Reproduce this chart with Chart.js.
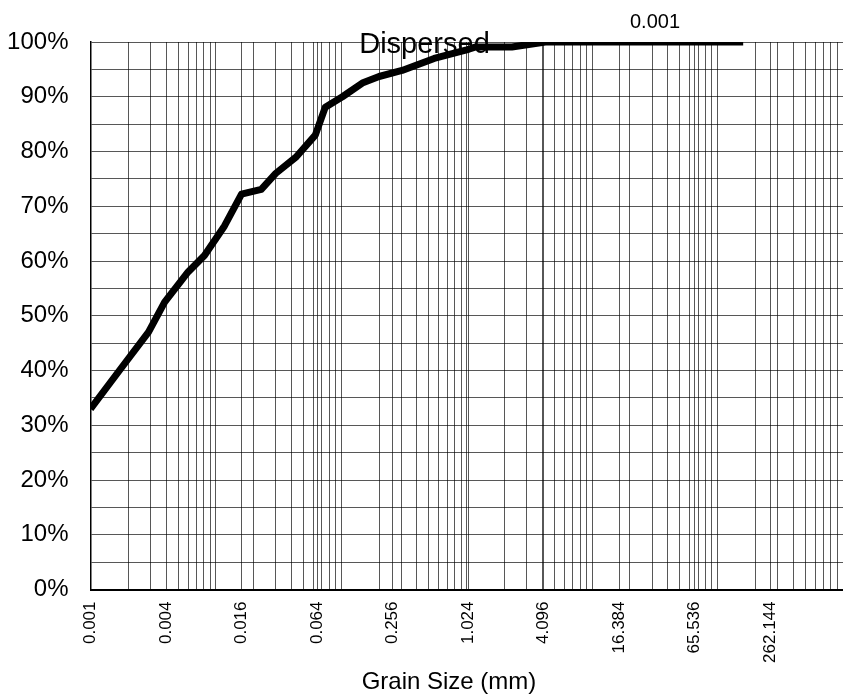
<!DOCTYPE html>
<html>
<head>
<meta charset="utf-8">
<script src="https://cdn.jsdelivr.net/npm/chart.js@4/dist/chart.umd.min.js"></script>
<style>
  html, body { margin: 0; padding: 0; background: #fff; }
  #wrap { width: 843px; height: 695px; position: relative; }
</style>
</head>
<body>
<div id="wrap"><canvas id="c" width="843" height="695"></canvas></div>
<script>
// ---- data ----
const grainSize = [0.001, 0.0017, 0.0029, 0.0039, 0.006, 0.0081, 0.0117, 0.016, 0.023, 0.030, 0.0436, 0.062, 0.0745, 0.102, 0.147, 0.2, 0.305, 0.55, 0.98, 1.18, 2.29, 4.24, 160];
const percentFiner = [33, 40, 47, 52.5, 58, 61, 66.4, 72.2, 73.1, 76, 79, 83, 88.1, 90, 92.5, 93.7, 94.8, 97, 98.5, 99.1, 99.1, 100, 100];

const xTickLabels = ['0.001', '0.004', '0.016', '0.064', '0.256', '1.024', '4.096', '16.384', '65.536', '262.144'];
const decadeStarts = [0.001, 0.01, 0.1, 1, 10, 100];
const decadeMultipliers = [1, 2, 3, 4, 5, 6, 7, 8, 9];
const yMin = 0, yMax = 100, yStep = 5, yLabelStep = 10;
const chartTitle = 'Dispersed';
const xAxisTitle = 'Grain Size (mm)';
const topNote = '0.001';

// ---- grid values for the log axis ----
const labelValues = xTickLabels.map(Number);
let gridValues = [];
decadeStarts.forEach(d => decadeMultipliers.forEach(m => gridValues.push(+(d * m).toPrecision(6))));
gridValues.push(1000);
gridValues = gridValues.concat(labelValues);
gridValues = Array.from(new Set(gridValues)).sort((a, b) => a - b);

const FONT = "'Liberation Sans', Arial, sans-serif";

const textPlugin = {
  id: 'textPlugin',
  afterDraw(chart) {
    const ctx = chart.ctx;
    ctx.save();
    ctx.fillStyle = '#000';
    ctx.textAlign = 'center';
    ctx.textBaseline = 'alphabetic';
    ctx.font = '29px ' + FONT;
    ctx.fillText(chartTitle, chart.width / 2 + 3, 53);
    ctx.font = '20px ' + FONT;
    ctx.fillText(topNote, 655, 28);
    ctx.font = '24px ' + FONT;
    ctx.fillText(xAxisTitle, 449, 689);
    ctx.restore();
  }
};

new Chart(document.getElementById('c'), {
  type: 'line',
  data: {
    datasets: [{
      data: grainSize.map((x, i) => ({ x: x, y: percentFiner[i] })),
      borderColor: '#000',
      borderWidth: 7,
      pointRadius: 0,
      tension: 0,
      fill: false,
      borderJoinStyle: 'round'
    }]
  },
  options: {
    responsive: false,
    animation: false,
    devicePixelRatio: 1,
    layout: { padding: { left: 0, right: -2, top: 42, bottom: 0 } },
    plugins: { legend: { display: false }, tooltip: { enabled: false }, title: { display: false } },
    scales: {
      x: {
        type: 'logarithmic',
        min: 0.001,
        max: 1000,
        afterBuildTicks: (scale) => { scale.ticks = gridValues.map(v => ({ value: v })); },
        afterFit: (scale) => { scale.height = 105.5; scale.paddingLeft = 0; scale.paddingRight = -2; },
        grid: { color: 'rgba(0,0,0,0.66)', lineWidth: 1, drawTicks: false },
        border: { color: '#000', width: 2 },
        ticks: {
          autoSkip: false,
          minRotation: 90,
          maxRotation: 90,
          padding: 12,
          color: '#000',
          font: { family: FONT, size: 17 },
          callback: function (value) {
            const i = labelValues.findIndex(v => Math.abs(v - value) / v < 1e-6);
            return i >= 0 ? xTickLabels[i] : '';
          }
        }
      },
      y: {
        min: yMin,
        max: yMax,
        afterFit: (scale) => { scale.width = 90.5; },
        grid: { color: 'rgba(0,0,0,0.66)', lineWidth: 1, drawTicks: false },
        border: { color: '#000', width: 1.5 },
        ticks: {
          stepSize: yStep,
          autoSkip: false,
          padding: 22,
          color: '#000',
          font: { family: FONT, size: 24 },
          callback: v => (v % yLabelStep === 0 ? v + '%' : '')
        }
      }
    }
  },
  plugins: [textPlugin]
});
</script>
</body>
</html>
